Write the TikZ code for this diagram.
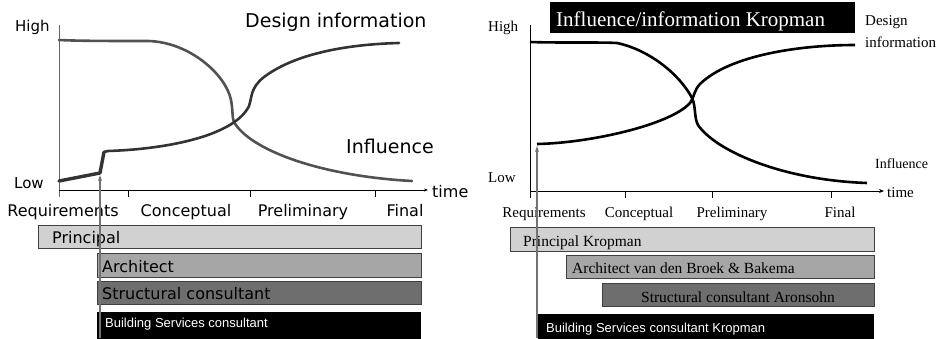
\documentclass[tikz,border=0pt]{standalone}
\usepackage{fontspec}
\setmainfont{Liberation Serif}
\newfontfamily\dvs{DejaVu Sans}
\newfontfamily\ars{Liberation Sans}
\usetikzlibrary{arrows.meta}
\newcommand\fsz[1]{\fontsize{#1}{#1}\selectfont}
\tikzset{
  lbl/.style={inner sep=0pt, anchor=base west},
  lblc/.style={inner sep=0pt, anchor=base},
  barbox/.style={draw=black!75, line width=0.7pt, anchor=north west, inner sep=0pt},
  curveL/.style={line width=2.6pt, line cap=round, line join=round},
  curveR/.style={line width=2.6pt, line join=round, black},
  axis/.style={line width=0.7pt},
  marker/.style={draw=black!55, line width=1.1pt, -{Stealth[length=6pt,width=4pt]}},
}
\begin{document}
\begin{tikzpicture}[x=1pt,y=-1pt]
\useasboundingbox (0,0) rectangle (945,338);
% ================= LEFT PANEL =================
% bars
\node[barbox, fill=black!18, minimum width=383pt, minimum height=23pt] (lp) at (38,225) {};
\node[barbox, fill=black!35, minimum width=324pt, minimum height=24pt] (la) at (97,253) {};
\node[barbox, fill=black!57, minimum width=324pt, minimum height=23pt] (ls) at (97,281) {};
\node[anchor=north west, fill=black, minimum width=324pt, minimum height=27pt, inner sep=0pt] (lb) at (97,312) {};
\node[lbl, font=\dvs\fsz{16}] (lpt) at (52,243) {Principal};
\node[lbl, font=\dvs\fsz{16}] (lat) at (102,272) {Architect};
\node[lbl, font=\dvs\fsz{16}] (lst) at (102,299) {Structural consultant};
\node[lbl, font=\ars\fsz{13}, text=white] (lbt) at (105,327) {Building Services consultant};
% axes
\coordinate (lo) at (59,190);
\coordinate (ltop) at (59,25);
\coordinate (lend) at (428,190);
\draw[axis, black!60] (59,197) -- (ltop);
\draw[axis, -{Stealth[length=4pt,width=3pt]}] (lo) -- (lend);
\foreach \x in {128,250,375} \draw[axis] (\x,190) -- (\x,197);
\node[lbl, font=\dvs\fsz{15}] (lhigh) at (15,31) {High};
\node[lbl, font=\dvs\fsz{15}] (llow) at (14,188) {Low};
\node[lbl, font=\dvs\fsz{16}] (ltime) at (432,197) {time};
\node[lbl, font=\dvs\fsz{19}] (ldi) at (245,27) {Design information};
\node[lbl, font=\dvs\fsz{19}] (linf) at (346,153) {Influence};
\node[lblc, font=\dvs\fsz{16}] at (63,216) {Requirements};
\node[lblc, font=\dvs\fsz{16}] at (186,216) {Conceptual};
\node[lblc, font=\dvs\fsz{16}] at (303,216) {Preliminary};
\node[lblc, font=\dvs\fsz{16}] at (405,216) {Final};
% curves
\draw[curveL, black!68] (59,40) .. controls (80,41) and (110,41) .. (148,41)
  .. controls (190,42) and (226,75) .. (231,100)
  .. controls (233,110) and (232,118) .. (234,122)
  .. controls (250,150) and (320,176) .. (412,181);
\draw[curveL, black!80, line width=3.4pt] (59,181) -- (100,173) -- (104,152);
\draw[curveL, black!80] (104,152) -- (108,151)
  .. controls (170,149) and (235,135) .. (249,106)
  .. controls (252,98) and (250,88) .. (264,77)
  .. controls (300,50) and (360,44) .. (399,43);
% marker arrow
\coordinate (lmb) at (100,338);
\coordinate (lmt) at (100,175);
\draw[marker] (lmb) -- (lmt);
% ================= RIGHT PANEL =================
\node[barbox, fill=black!18, minimum width=364pt, minimum height=24pt] (rp) at (510,227) {};
\node[barbox, fill=black!35, minimum width=308pt, minimum height=23pt] (ra) at (566,255) {};
\node[barbox, fill=black!57, minimum width=272pt, minimum height=23pt] (rs) at (602,283) {};
\node[anchor=north west, fill=black, minimum width=336pt, minimum height=25pt, inner sep=0pt] (rb) at (538,314) {};
\node[lbl, font=\fsz{15.5}] (rpt) at (523,246) {Principal Kropman};
\node[lbl, font=\fsz{15.5}] (rat) at (572,273) {Architect van den Broek \& Bakema};
\node[lblc, font=\fsz{15.5}] (rst) at (738,302) {Structural consultant Aronsohn};
\node[lbl, font=\ars\fsz{13}, text=white] (rbt) at (546,332) {Building Services consultant Kropman};
% title
\node[anchor=north west, fill=black, minimum width=305pt, minimum height=31pt, inner sep=0pt] (title) at (550,2) {};
\node[lbl, font=\fsz{21}, text=white] (titlet) at (556,26) {Influence/information Kropman};
% axes
\coordinate (ro) at (530,191);
\coordinate (rtop) at (530,25);
\coordinate (rend) at (884,191);
\draw[axis] (530,198) -- (rtop);
\draw[axis, -{Stealth[length=5pt,width=4pt]}] (ro) -- (rend);
\foreach \x in {625,712,831} \draw[axis] (\x,191) -- (\x,198);
\node[lbl, font=\fsz{15}] (rhigh) at (488,31) {High};
\node[lbl, font=\fsz{15}] (rlow) at (488,182) {Low};
\node[lbl, font=\fsz{15}] (rtime) at (887,197) {time};
\node[lbl, font=\fsz{15}] (rdi1) at (865,25) {Design};
\node[lbl, font=\fsz{15}] (rdi2) at (865,47) {information};
\node[lbl, font=\fsz{14}] (rinf) at (875,168) {Influence};
\node[lblc, font=\fsz{15}] at (544,217) {Requirements};
\node[lblc, font=\fsz{15}] at (639,217) {Conceptual};
\node[lblc, font=\fsz{15}] at (732,217) {Preliminary};
\node[lblc, font=\fsz{15}] at (840,217) {Final};
% curves
\draw[curveR] (530,42) .. controls (560,43) and (600,42) .. (617,43)
  .. controls (650,50) and (680,75) .. (692,98)
  .. controls (696,106) and (694,118) .. (698,125)
  .. controls (715,150) and (780,180) .. (867,183);
\draw[curveR] (537,144) .. controls (590,143) and (670,125) .. (690,103)
  .. controls (694,98) and (694,90) .. (700,84)
  .. controls (730,55) and (800,45) .. (855,45);
% marker arrow
\coordinate (rmb) at (537,338);
\coordinate (rmt) at (537,146);
\draw[marker] (rmb) -- (rmt);
\end{tikzpicture}
\end{document}
